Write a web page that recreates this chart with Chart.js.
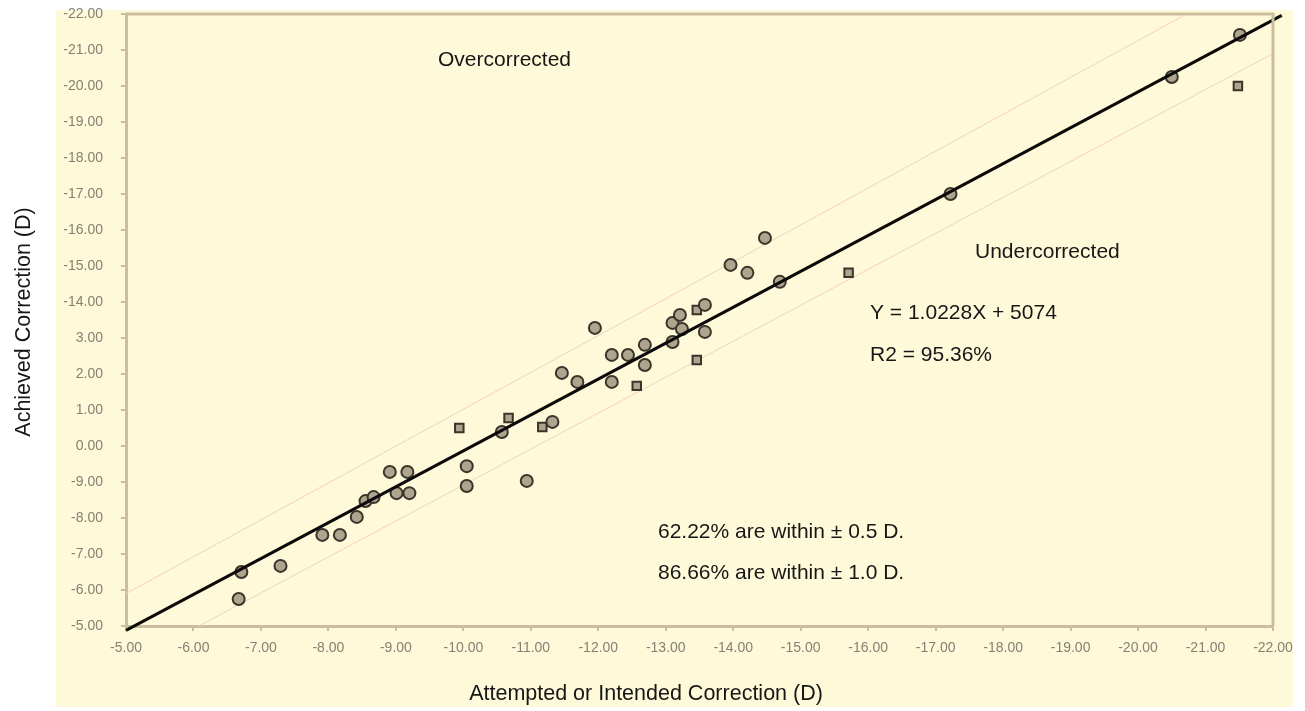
<!DOCTYPE html>
<html>
<head>
<meta charset="utf-8">
<script src="https://cdn.jsdelivr.net/npm/chart.js@4.4.0/dist/chart.umd.min.js"></script>
<style>
  body { margin: 0; background: #fff; }
  canvas { display: block; }
</style>
</head>
<body>
<canvas id="chart" width="1305" height="711"></canvas>
<script>
// eyes plotted as round markers
const circleAttempted = [-6.67, -6.71, -7.29, -7.91, -8.17, -8.42, -8.55, -8.67, -8.91, -9.17, -9.01, -9.20,
    -10.05, -10.05, -10.57, -10.94, -11.32, -11.46, -11.69, -11.95, -12.20, -12.20, -12.44, -12.69, -12.69,
    -13.10, -13.10, -13.21, -13.24, -13.58, -13.58, -13.96, -14.21, -14.47, -14.69, -17.22, -20.50, -21.51]
const circleAchieved = [-5.75, -6.50, -6.67, -7.53, -7.53, -8.03, -8.47, -8.58, -9.28, -9.28, -8.69, -8.69,
    -9.44, -8.89, -10.39, -9.03, -10.67, -12.03, -11.78, -13.28, -12.53, -11.78, -12.53, -12.81, -12.25,
    -13.42, -12.89, -13.64, -13.25, -13.92, -13.17, -15.03, -14.81, -15.78, -14.56, -17.00, -20.25, -21.42]

// eyes plotted as square markers
const squareAttempted = [-9.94, -10.67, -11.17, -12.57, -13.46, -13.46, -15.71, -21.48]
const squareAchieved = [-10.50, -10.78, -10.53, -11.67, -13.78, -12.39, -14.81, -20.00]

// regression line and the +/- 1 D band, end points
const fitLine = [[-5, -4.88], [-22.13, -21.96]]
const upperBand = [[-5, -5.9], [-20.72, -22]]
const lowerBand = [[-6.08, -5], [-22, -20.9]]

const tickValues = [-5, -6, -7, -8, -9, -10, -11, -12, -13, -14, -15, -16, -17, -18, -19, -20, -21, -22]
const xTickLabels = ['-5.00', '-6.00', '-7.00', '-8.00', '-9.00', '-10.00', '-11.00', '-12.00', '-13.00',
    '-14.00', '-15.00', '-16.00', '-17.00', '-18.00', '-19.00', '-20.00', '-21.00', '-22.00']
const yTickLabels = ['-5.00', '-6.00', '-7.00', '-8.00', '-9.00', '0.00', '1.00', '2.00', '3.00',
    '-14.00', '-15.00', '-16.00', '-17.00', '-18.00', '-19.00', '-20.00', '-21.00', '-22.00']

const notes = [
    { text: 'Overcorrected', x: 438, y: 60 },
    { text: 'Undercorrected', x: 975, y: 252 },
    { text: 'Y = 1.0228X + 5074', x: 870, y: 313 },
    { text: 'R2 = 95.36%', x: 870, y: 355 },
    { text: '62.22% are within \u00B1 0.5 D.', x: 658, y: 532 },
    { text: '86.66% are within \u00B1 1.0 D.', x: 658, y: 573 }
]

const cream = '#fefad9'
const axisTan = '#cdbd9f'
const textFont = '21px "Liberation Sans", Arial, sans-serif'

const toPoints = (xs, ys) => xs.map((x, i) => ({ x: x, y: ys[i] }))
const pairPoints = pairs => pairs.map(p => ({ x: p[0], y: p[1] }))

const decorations = {
    id: 'decorations',
    beforeDraw(chart) {
        const ctx = chart.ctx
        ctx.save()
        ctx.fillStyle = '#ffffff'
        ctx.fillRect(0, 0, chart.width, chart.height)
        ctx.fillStyle = cream
        ctx.fillRect(56, 10, 1237, 697)
        ctx.restore()
    },
    afterDatasetsDraw(chart) {
        const ctx = chart.ctx
        const area = chart.chartArea
        ctx.save()
        ctx.strokeStyle = axisTan
        ctx.lineWidth = 3
        ctx.beginPath()
        ctx.moveTo(area.left, area.top)
        ctx.lineTo(area.right, area.top)
        ctx.lineTo(area.right, area.bottom)
        ctx.stroke()

        ctx.fillStyle = '#161616'
        ctx.font = textFont
        ctx.textBaseline = 'middle'
        ctx.textAlign = 'left'
        notes.forEach(n => ctx.fillText(n.text, n.x, n.y))

        ctx.textAlign = 'center'
        ctx.font = '21.5px "Liberation Sans", Arial, sans-serif'
        ctx.fillText('Attempted or Intended Correction (D)', 646, 694)
        ctx.translate(24, 322)
        ctx.rotate(-Math.PI / 2)
        ctx.fillText('Achieved Correction (D)', 0, 0)
        ctx.restore()
    }
}

const tickFont = { family: '"Liberation Sans", Arial, sans-serif', size: 14 }

new Chart(document.getElementById('chart'), {
    type: 'scatter',
    data: {
        datasets: [
            {
                data: pairPoints(fitLine),
                showLine: true,
                borderColor: '#0a0a0a',
                borderWidth: 3,
                pointRadius: 0,
                clip: false,
                order: 0
            },
            {
                data: toPoints(circleAttempted, circleAchieved),
                pointStyle: 'circle',
                pointRadius: 6,
                borderWidth: 2,
                borderColor: '#3a342b',
                backgroundColor: '#aea58e',
                order: 1
            },
            {
                data: toPoints(squareAttempted, squareAchieved),
                pointStyle: 'rect',
                pointRadius: 6,
                borderWidth: 2,
                borderColor: '#3a342b',
                backgroundColor: '#aea58e',
                order: 1
            },
            {
                data: pairPoints(upperBand),
                showLine: true,
                borderColor: '#f4cfc0',
                borderWidth: 1,
                pointRadius: 0,
                order: 2
            },
            {
                data: pairPoints(lowerBand),
                showLine: true,
                borderColor: '#f4cfc0',
                borderWidth: 1,
                pointRadius: 0,
                order: 2
            }
        ]
    },
    options: {
        responsive: false,
        animation: false,
        layout: { padding: { top: 14, right: 32, bottom: 0, left: 0 } },
        plugins: {
            legend: { display: false },
            tooltip: { enabled: false }
        },
        scales: {
            x: {
                type: 'linear',
                reverse: true,
                min: -22,
                max: -5,
                afterFit: scale => {
                    scale.height = 85
                    scale.paddingLeft = 0
                    scale.paddingRight = 0
                },
                afterBuildTicks: scale => { scale.ticks = tickValues.map(v => ({ value: v })) },
                grid: { drawOnChartArea: false, drawTicks: true, tickLength: 5, color: axisTan, lineWidth: 2 },
                border: { color: axisTan, width: 3 },
                ticks: {
                    autoSkip: false,
                    maxRotation: 0,
                    padding: 9,
                    color: '#868075',
                    font: tickFont,
                    callback: value => xTickLabels[tickValues.indexOf(value)]
                }
            },
            y: {
                type: 'linear',
                reverse: true,
                min: -22,
                max: -5,
                afterFit: scale => {
                    scale.width = 126
                    scale.paddingTop = 0
                    scale.paddingBottom = 0
                },
                afterBuildTicks: scale => { scale.ticks = tickValues.map(v => ({ value: v })) },
                grid: { drawOnChartArea: false, drawTicks: true, tickLength: 5, color: axisTan, lineWidth: 2 },
                border: { color: axisTan, width: 3 },
                ticks: {
                    autoSkip: false,
                    padding: 18,
                    color: '#868075',
                    font: tickFont,
                    callback: value => yTickLabels[tickValues.indexOf(value)]
                }
            }
        }
    },
    plugins: [decorations]
})
</script>
</body>
</html>
